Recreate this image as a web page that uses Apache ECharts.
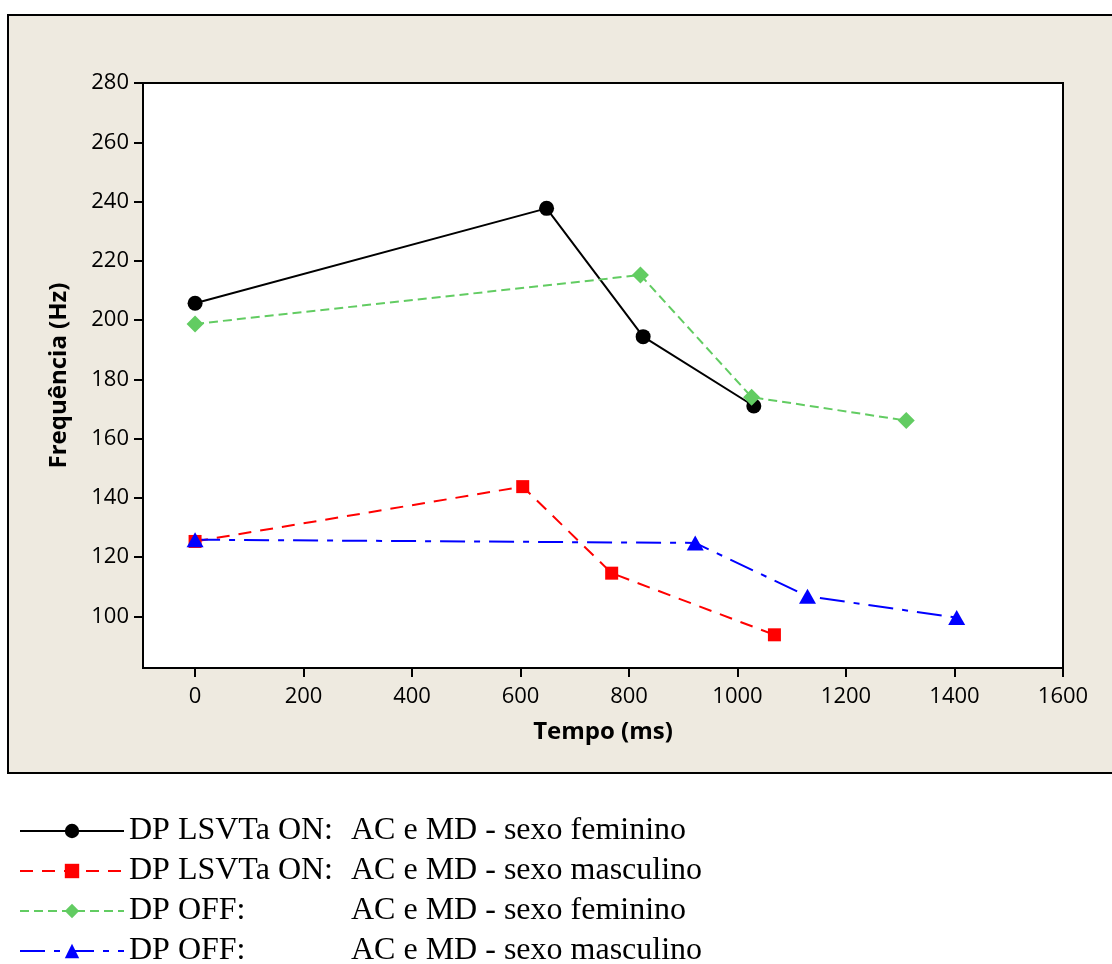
<!DOCTYPE html>
<html><head><meta charset="utf-8">
<script src="https://cdn.jsdelivr.net/npm/echarts@6/dist/echarts.min.js"></script>
<style>html,body{margin:0;padding:0;background:#fff}#c{width:1112px;height:964px}</style>
</head><body><div id="c"></div>
<script>
const seriesNames = [
  'DP LSVTa ON:  AC e MD - sexo feminino',
  'DP LSVTa ON:  AC e MD - sexo masculino',
  'DP OFF:  AC e MD - sexo feminino',
  'DP OFF:  AC e MD - sexo masculino'
];
const legendLeft = ['DP LSVTa ON:', 'DP LSVTa ON:', 'DP OFF:', 'DP OFF:'];
const legendRight = ['AC e MD - sexo feminino', 'AC e MD - sexo masculino', 'AC e MD - sexo feminino', 'AC e MD - sexo masculino'];
const onFemX = [0, 648, 826, 1030];
const onFemY = [205.7, 237.7, 194.4, 171.0];
const onMascX = [0, 604, 768, 1068];
const onMascY = [125.3, 143.8, 114.6, 93.8];
const offFemX = [0, 821, 1026, 1311];
const offFemY = [198.7, 215.2, 174.0, 166.1];
const offMascX = [0, 922, 1129, 1404];
const offMascY = [125.9, 124.8, 106.8, 99.6];
const xTicks = [0, 200, 400, 600, 800, 1000, 1200, 1400, 1600];
const yTicks = [100, 120, 140, 160, 180, 200, 220, 240, 260, 280];

const pairs = (xs, ys) => xs.map((x, i) => [x, ys[i]]);
const chart = echarts.init(document.getElementById('c'));
const sans = '"Open Sans", "Noto Sans", sans-serif';
const serif = '"Liberation Serif", "Times New Roman", serif';
chart.setOption({
  backgroundColor: '#ffffff',
  animation: false,
  graphic: [{
    type: 'rect', z: -10, silent: true,
    shape: { x: 8, y: 15, width: 1120, height: 758 },
    style: { fill: '#EEEAE0', stroke: '#000', lineWidth: 2 }
  }],
  grid: {
    left: 143, top: 83, right: 49, bottom: 296,
    show: true, backgroundColor: '#ffffff', borderColor: '#000', borderWidth: 2
  },
  xAxis: {
    type: 'value', min: -96, max: 1600,
    name: 'Tempo (ms)', nameLocation: 'middle', nameGap: 52,
    nameTextStyle: { fontFamily: sans, fontWeight: 'bold', fontSize: 24, color: '#000' },
    axisLine: { show: true, onZero: false, lineStyle: { color: '#000', width: 2 } },
    axisTick: { show: true, length: 9, customValues: xTicks, lineStyle: { color: '#000', width: 2 } },
    axisLabel: { customValues: xTicks, margin: 18, fontFamily: sans, fontSize: 22, color: '#000',
      formatter: v => String(v) },
    splitLine: { show: false }
  },
  yAxis: {
    type: 'value', min: 82.6, max: 280,
    name: 'Frequência (Hz)', nameLocation: 'middle', nameGap: 72,
    nameTextStyle: { fontFamily: sans, fontWeight: 'bold', fontSize: 24, color: '#000' },
    axisLine: { show: true, onZero: false, lineStyle: { color: '#000', width: 2 } },
    axisTick: { show: true, length: 9, customValues: yTicks, lineStyle: { color: '#000', width: 2 } },
    axisLabel: { customValues: yTicks, margin: 14, fontFamily: sans, fontSize: 22, color: '#000',
      formatter: v => String(v) },
    splitLine: { show: false }
  },
  legend: {
    orient: 'vertical', left: 14, top: 810, height: 170, itemGap: 8,
    itemWidth: 104, itemHeight: 18,
    data: seriesNames,
    formatter: function (name) {
      const i = seriesNames.indexOf(name);
      return '{a|' + legendLeft[i] + '}{b|' + legendRight[i] + '}';
    },
    textStyle: {
      fontFamily: serif, fontSize: 32, color: '#000',
      rich: {
        a: { width: 222, fontFamily: serif, fontSize: 32, color: '#000' },
        b: { fontFamily: serif, fontSize: 32, color: '#000' }
      }
    }
  },
  series: [
    {
      name: seriesNames[0], type: 'line', data: pairs(onFemX, onFemY),
      symbol: 'circle', symbolSize: 15,
      itemStyle: { color: '#000' },
      lineStyle: { color: '#000', width: 2, type: 'solid' }
    },
    {
      name: seriesNames[1], type: 'line', data: pairs(onMascX, onMascY),
      symbol: 'rect', symbolSize: 13,
      itemStyle: { color: '#FF0000' },
      lineStyle: { color: '#FF0000', width: 2, type: [13, 9] }
    },
    {
      name: seriesNames[2], type: 'line', data: pairs(offFemX, offFemY),
      symbol: 'diamond', symbolSize: 17,
      itemStyle: { color: '#62CC62' },
      lineStyle: { color: '#62CC62', width: 2, type: [9, 5] }
    },
    {
      name: seriesNames[3], type: 'line', data: pairs(offMascX, offMascY),
      symbol: 'triangle', symbolSize: [17, 15],
      itemStyle: { color: '#0000FF' },
      lineStyle: { color: '#0000FF', width: 2, type: [25, 9, 6, 9] }
    }
  ]
});
</script></body></html>
